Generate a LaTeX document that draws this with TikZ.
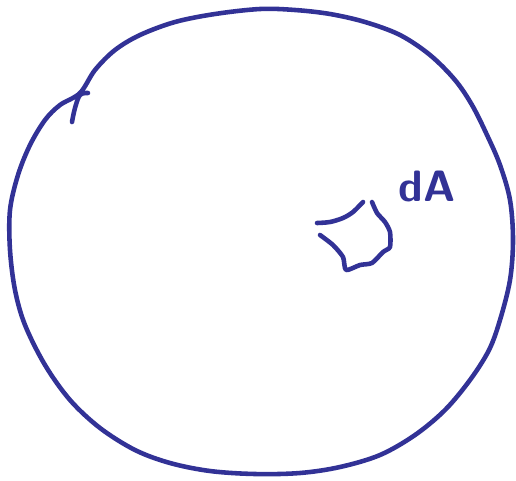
\documentclass[tikz,border=0pt]{standalone}
\usetikzlibrary{calc}
\definecolor{ink}{RGB}{50,50,150}
\begin{document}
\begin{tikzpicture}[x=0.02cm,y=-0.02cm,
  pen/.style={draw=ink,line width=2.6pt,line cap=round,line join=round}]
\useasboundingbox (0,0) rectangle (516,480);
% big hand-drawn circle
\draw[pen] plot[smooth cycle,tension=0.55] coordinates {
 (80,93) (95,70) (115,50) (140,35) (175,22) (215,14) (260,9) (295,10)
 (330,14) (365,22) (400,35) (430,55) (455,80) (472,105) (487,135)
 (500,165) (510,200) (513,240) (510,280) (500,320) (489,350) (470,380)
 (445,410) (415,435) (380,455) (340,467) (300,473) (255,474) (210,471)
 (170,463) (135,450) (100,428) (70,400) (45,365) (25,325) (15,290)
 (10,250) (10,210) (18,175) (30,145) (45,120) (60,105)};
% closing tick
\draw[pen] plot[smooth,tension=0.6] coordinates {(88,93) (80,95) (75,108) (72,122)};
% small patch dA
\draw[pen] plot[smooth,tension=0.5] coordinates {(317,223) (330,222) (343,218) (353,212) (363,202)};
\draw[pen] plot[smooth,tension=0.4] coordinates {(372,202) (377,213) (385,222) (390,232) (390,247) (383,252) (372,263) (360,265) (346,270) (343,257) (333,245) (320,235)};
\node[text=ink,font=\sffamily\bfseries\fontsize{25}{25}\selectfont,anchor=base west,inner sep=0pt] (lbl) at (398,201) {dA};
\end{tikzpicture}
\end{document}
